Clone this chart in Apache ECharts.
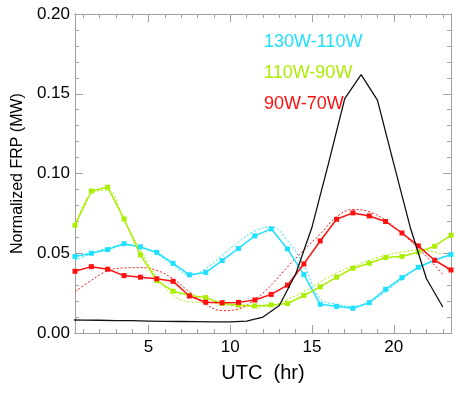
<!DOCTYPE html>
<html>
<head>
<meta charset="utf-8">
<script src="https://cdn.jsdelivr.net/npm/echarts@6/dist/echarts.min.js"></script>
<style>
  html, body { margin: 0; padding: 0; background: #fff; }
  #main { width: 460px; height: 393px; }
</style>
</head>
<body>
<div id="main"></div>
<script>
// hour bins (UTC)
const hours = [0.5, 1.5, 2.5, 3.5, 4.5, 5.5, 6.5, 7.5, 8.5, 9.5, 10.5, 11.5,
  12.5, 13.5, 14.5, 15.5, 16.5, 17.5, 18.5, 19.5, 20.5, 21.5, 22.5, 23.5]
const fitHours = [0.5, 1.5, 2.5, 3.5, 4.5, 5.5, 6.5, 7.5, 8.5, 9.5, 10.5, 11.5,
  12.5, 13.5, 14.5, 15.5, 16.5, 17.5, 18.5, 19.5, 20.5, 21.5, 22.5, 23.0]
const blackHours = [0, 1, 2, 3, 4, 5, 6, 7, 8, 9, 10, 11, 12, 13, 14, 15, 16, 17, 18, 19, 20, 21, 22, 23]

const regionNames = ['130W-110W', '110W-90W', '90W-70W']

// observed
const cyanVals = [0.048, 0.050, 0.0523, 0.056, 0.054, 0.0506, 0.0437, 0.0365, 0.038, 0.0454, 0.053, 0.0609,
  0.0653, 0.0527, 0.0366, 0.018, 0.0167, 0.0155, 0.019, 0.0274, 0.0347, 0.0412, 0.0456, 0.0492]
const greenVals = [0.0676, 0.089, 0.0914, 0.0715, 0.049, 0.0329, 0.0262, 0.0235, 0.0222, 0.0185, 0.0175, 0.017,
  0.0176, 0.0185, 0.0235, 0.0289, 0.035, 0.0406, 0.0437, 0.0473, 0.048, 0.0508, 0.0544, 0.0613]
const redVals = [0.0387, 0.0416, 0.040, 0.036, 0.035, 0.034, 0.0324, 0.0232, 0.0193, 0.019, 0.0192, 0.0207,
  0.0242, 0.030, 0.0433, 0.0577, 0.0713, 0.0753, 0.0734, 0.0699, 0.0627, 0.0546, 0.0456, 0.0395]

// fitted (dotted)
const cyanFit = [0.0456, 0.0498, 0.0533, 0.055, 0.0536, 0.0494, 0.0425, 0.0362, 0.0404, 0.0487, 0.057, 0.064,
  0.0665, 0.058, 0.0425, 0.0216, 0.018, 0.0167, 0.0195, 0.0257, 0.0337, 0.041, 0.0456, 0.048]
const greenFit = [0.0665, 0.0875, 0.0895, 0.0707, 0.052, 0.035, 0.0236, 0.0195, 0.0192, 0.018, 0.0167, 0.0163,
  0.017, 0.021, 0.026, 0.032, 0.0376, 0.0418, 0.0456, 0.0487, 0.0508, 0.052, 0.0508, 0.049]
const redFit = [0.026, 0.033, 0.039, 0.0408, 0.041, 0.0393, 0.034, 0.0257, 0.018, 0.014, 0.015, 0.021,
  0.030, 0.0414, 0.052, 0.062, 0.0728, 0.0774, 0.076, 0.0707, 0.0624, 0.053, 0.0425, 0.0368]

// black curve
const blackVals = [0.0082, 0.0081, 0.008, 0.0078, 0.0077, 0.0075, 0.0073, 0.0072, 0.0071, 0.007, 0.007, 0.0075,
  0.010, 0.0172, 0.037, 0.0665, 0.106, 0.147, 0.162, 0.146, 0.106, 0.0665, 0.034, 0.0163]

const xMajor = [5, 10, 15, 20]
const xMinor = [1, 2, 3, 4, 6, 7, 8, 9, 11, 12, 13, 14, 16, 17, 18, 19, 21, 22, 23]

const colors = ['#1fe0ff', '#aaee00', '#ff1010']
const FONT = 'Liberation Sans'
const axisGray = '#a0a0a0'

const pairs = (xs, ys) => ys.map((v, i) => [xs[i], v])

const chart = echarts.init(document.getElementById('main'))

function xAxisDef(pos, ticks, len, showLabel) {
  return {
    type: 'value', min: 0.5, max: 23.5, position: pos,
    axisLine: { show: true, lineStyle: { color: axisGray, width: 1 } },
    axisTick: { show: true, inside: true, length: len, customValues: ticks, lineStyle: { color: axisGray } },
    axisLabel: { show: showLabel, customValues: xMajor, margin: 6, color: '#000', fontSize: 17, fontFamily: FONT },
    splitLine: { show: false }
  }
}

const solidSeries = [cyanVals, greenVals, redVals].map((vals, i) => ({
  name: regionNames[i], type: 'line', data: pairs(hours, vals),
  symbol: 'rect', symbolSize: 5, showSymbol: true,
  lineStyle: { color: colors[i], width: 1.5 },
  itemStyle: { color: colors[i] },
  z: 3
}))

const fitSeries = [cyanFit, greenFit, redFit].map((vals, i) => ({
  name: regionNames[i] + ' fit', type: 'line', data: pairs(fitHours, vals),
  smooth: 0.4, showSymbol: false,
  lineStyle: { color: colors[i], width: 1, type: [2, 2] },
  itemStyle: { color: colors[i] },
  z: 2
}))

const option = {
  animation: false,
  grid: { left: 75, right: 9, top: 14, bottom: 60 },
  legend: {
    data: regionNames.map((n, i) => ({ name: n, textStyle: { color: colors[i] } })),
    orient: 'vertical', left: 254, top: 27,
    icon: 'none', itemWidth: 0, itemHeight: 14, itemGap: 11,
    selectedMode: false,
    textStyle: { fontSize: 18, fontFamily: FONT, lineHeight: 20 }
  },
  xAxis: [
    xAxisDef('bottom', xMinor, 4, false),
    Object.assign(xAxisDef('bottom', xMajor, 8, true), {
      name: 'UTC  (hr)', nameLocation: 'middle', nameGap: 30,
      nameTextStyle: { fontSize: 20, fontFamily: FONT, color: '#000' }
    }),
    xAxisDef('top', xMinor, 4, false),
    xAxisDef('top', xMajor, 8, false)
  ],
  yAxis: [
    {
      type: 'value', min: 0, max: 0.2, interval: 0.05, position: 'left',
      name: 'Normalized FRP (MW)', nameLocation: 'middle', nameGap: 48,
      nameTextStyle: { fontSize: 16, fontFamily: FONT, color: '#000' },
      axisLine: { show: true, lineStyle: { color: axisGray } },
      axisTick: { show: true, inside: true, length: 8, lineStyle: { color: axisGray } },
      minorTick: { show: true, splitNumber: 5, length: 4, lineStyle: { color: axisGray } },
      axisLabel: { formatter: v => v.toFixed(2), margin: 5, color: '#000', fontSize: 17, fontFamily: FONT },
      splitLine: { show: false }
    },
    {
      type: 'value', min: 0, max: 0.2, interval: 0.05, position: 'right',
      axisLine: { show: true, lineStyle: { color: axisGray } },
      axisTick: { show: true, inside: true, length: 8, lineStyle: { color: axisGray } },
      minorTick: { show: true, splitNumber: 5, length: 4, lineStyle: { color: axisGray } },
      axisLabel: { show: false },
      splitLine: { show: false }
    }
  ],
  series: [
    ...fitSeries,
    ...solidSeries,
    {
      name: 'all', type: 'line', data: pairs(blackHours, blackVals),
      showSymbol: false, lineStyle: { color: '#111', width: 1.3 }, z: 4
    }
  ]
}

chart.setOption(option)
</script>
</body>
</html>
